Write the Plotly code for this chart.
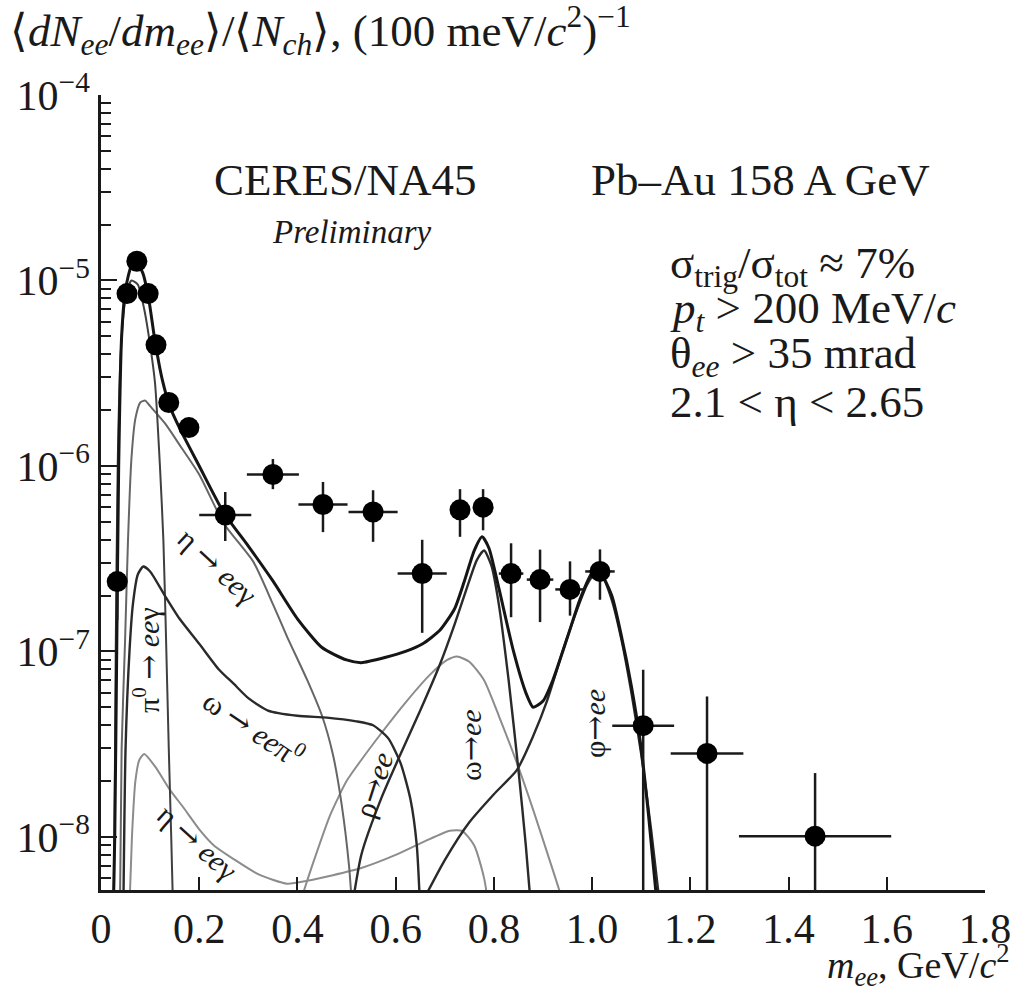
import plotly.graph_objects as go

# ---- measured e+e- pair yield ----
mass = [0.033, 0.053, 0.073, 0.096, 0.112, 0.138, 0.179, 0.253, 0.350, 0.452,
        0.554, 0.654, 0.731, 0.778, 0.835, 0.894, 0.955, 1.016, 1.104, 1.234, 1.454]
pair_yield = [2.38e-7, 8.5e-6, 1.27e-5, 8.5e-6, 4.5e-6, 2.2e-6, 1.61e-6, 5.44e-7, 9.0e-7, 6.2e-7,
              5.65e-7, 2.63e-7, 5.8e-7, 6.0e-7, 2.63e-7, 2.44e-7, 2.16e-7, 2.7e-7, 3.98e-8, 2.82e-8, 1.01e-8]
err_up = [1.0e-7, 0, 0, 0, 0, 0, 0, 1.8e-7, 1.9e-7, 2.0e-7,
          1.75e-7, 1.37e-7, 1.7e-7, 1.5e-7, 1.2e-7, 1.1e-7, 0.9e-7, 0.85e-7, 4.0e-8, 2.9e-8, 1.2e-8]
err_down = [0.9e-7, 0, 0, 0, 0, 0, 0, 1.5e-7, 1.5e-7, 1.8e-7,
            1.75e-7, 1.37e-7, 1.65e-7, 1.5e-7, 1.1e-7, 1.0e-7, 0.6e-7, 0.8e-7, 3.7e-8, 2.55e-8, 0.75e-8]
mass_halfbin = [0, 0, 0, 0, 0, 0, 0, 0.053, 0.053, 0.05,
                0.05, 0.05, 0.02, 0.02, 0.025, 0.027, 0.03, 0.03, 0.063, 0.074, 0.155]

# ---- hadronic decay cocktail ----
total_m = [0.024, 0.028, 0.032, 0.036, 0.042, 0.05, 0.062, 0.072, 0.085, 0.097, 0.11, 0.125, 0.14,
           0.16, 0.2, 0.25, 0.3, 0.35, 0.4, 0.45, 0.5, 0.53, 0.58, 0.62, 0.655, 0.69, 0.72, 0.74,
           0.76, 0.776, 0.79, 0.81, 0.84, 0.865, 0.88, 0.9, 0.92, 0.95, 0.975, 1.0, 1.015, 1.04,
           1.06, 1.08, 1.1, 1.115, 1.13, 1.14]
total_y = [3e-9, 1e-8, 1e-7, 1e-6, 5e-6, 9e-6, 1.2e-5, 1.25e-5, 1.1e-5, 8e-6, 4.7e-6, 2.9e-6, 2.1e-6,
           1.6e-6, 1.0e-6, 5.6e-7, 3.7e-7, 2.4e-7, 1.5e-7, 1.05e-7, 9.0e-8, 8.7e-8, 9.3e-8, 1.0e-7,
           1.1e-7, 1.3e-7, 1.7e-7, 2.4e-7, 3.5e-7, 4.15e-7, 3.6e-7, 2.2e-7, 1.0e-7, 6.0e-8, 5.0e-8,
           5.4e-8, 7.0e-8, 1.2e-7, 1.9e-7, 2.65e-7, 2.7e-7, 2.0e-7, 1.2e-7, 6.5e-8, 3.0e-8, 1.3e-8,
           5e-9, 3e-9]

pi0_m = [0.026, 0.03, 0.034, 0.04, 0.05, 0.062, 0.075, 0.088, 0.1, 0.11, 0.12, 0.127, 0.132,
         0.138, 0.143, 0.148]
pi0_y = [3e-9, 1e-7, 1e-6, 4e-6, 8e-6, 1.0e-5, 9.5e-6, 7e-6, 4.5e-6, 2.8e-6, 1.0e-6, 4e-7, 1.3e-7,
         3e-8, 1e-8, 3e-9]

eta_m = [0.038, 0.042, 0.049, 0.055, 0.062, 0.07, 0.08, 0.09, 0.1, 0.13, 0.16, 0.2, 0.25, 0.31,
         0.35, 0.379, 0.42, 0.45, 0.472, 0.49, 0.505, 0.515]
eta_y = [3e-9, 3e-8, 1.14e-7, 4e-7, 1.1e-6, 1.8e-6, 2.2e-6, 2.25e-6, 2.1e-6, 1.7e-6, 1.3e-6, 9e-7,
         4.9e-7, 3.05e-7, 1.8e-7, 1.2e-7, 7e-8, 4.5e-8, 2.8e-8, 1.5e-8, 7e-9, 3e-9]

omega_dalitz_m = [0.045, 0.05, 0.058, 0.065, 0.075, 0.086, 0.1, 0.13, 0.16, 0.2, 0.24, 0.27, 0.3,
                  0.34, 0.4, 0.46, 0.52, 0.554, 0.585, 0.61, 0.63, 0.643, 0.652]
omega_dalitz_y = [3e-9, 3e-8, 1e-7, 1.8e-7, 2.6e-7, 2.87e-7, 2.7e-7, 2.0e-7, 1.5e-7, 1.1e-7, 8e-8,
                  6.7e-8, 5.6e-8, 4.8e-8, 4.5e-8, 4.4e-8, 4.2e-8, 4.0e-8, 3.4e-8, 2.5e-8, 1.6e-8,
                  9e-9, 3e-9]

etap_m = [0.056, 0.063, 0.07, 0.078, 0.088, 0.11, 0.14, 0.167, 0.2, 0.23, 0.27, 0.32, 0.379,
          0.42, 0.47, 0.53, 0.6, 0.66, 0.71, 0.735, 0.76, 0.78, 0.797]
etap_y = [3e-9, 1e-8, 2e-8, 2.6e-8, 2.8e-8, 2.4e-8, 1.8e-8, 1.45e-8, 1.1e-8, 9e-9, 7.6e-9, 6.3e-9,
          5.6e-9, 5.8e-9, 6.2e-9, 6.8e-9, 8e-9, 9.5e-9, 1.08e-8, 1.08e-8, 9e-9, 6e-9, 3e-9]

rho_m = [0.40, 0.43, 0.466, 0.5, 0.53, 0.57, 0.62, 0.67, 0.705, 0.725, 0.75, 0.78, 0.81, 0.847,
         0.88, 0.91, 0.94, 0.955]
rho_y = [4e-9, 7e-9, 1.3e-8, 2e-8, 2.6e-8, 3.6e-8, 5.3e-8, 7.5e-8, 9e-8, 9.4e-8, 8.8e-8, 7e-8,
         4.5e-8, 2.5e-8, 1.4e-8, 8e-9, 4.5e-9, 3e-9]

omega_m = [0.503, 0.53, 0.57, 0.61, 0.65, 0.69, 0.72, 0.745, 0.765, 0.78, 0.795, 0.81, 0.83,
           0.85, 0.865, 0.88]
omega_y = [3e-9, 8e-9, 1.6e-8, 2.8e-8, 4.8e-8, 8.5e-8, 1.4e-7, 2.2e-7, 3.1e-7, 3.5e-7, 2.9e-7,
           1.8e-7, 7e-8, 2.3e-8, 9e-9, 3e-9]

phi_m = [0.645, 0.7, 0.75, 0.8, 0.847, 0.88, 0.908, 0.94, 0.97, 0.99, 1.005, 1.02, 1.04, 1.06,
         1.08, 1.1, 1.12, 1.135, 1.145]
phi_y = [4e-9, 7.5e-9, 1.2e-8, 1.7e-8, 2.3e-8, 3.5e-8, 5.4e-8, 1.0e-7, 1.7e-7, 2.3e-7, 2.6e-7,
         2.55e-7, 1.9e-7, 1.15e-7, 6e-8, 2.8e-8, 1.1e-8, 5e-9, 3e-9]

x_ticks = [0, 0.2, 0.4, 0.6, 0.8, 1.0, 1.2, 1.4, 1.6, 1.8]
x_tick_text = ["0", "0.2", "0.4", "0.6", "0.8", "1.0", "1.2", "1.4", "1.6", "1.8"]
y_ticks = [1e-8, 1e-7, 1e-6, 1e-5, 1e-4]
y_tick_text = ["10<sup>−8</sup>", "10<sup>−7</sup>", "10<sup>−6</sup>",
               "10<sup>−5</sup>", "10<sup>−4</sup>"]

SERIF = "Liberation Serif"
INK = "#1a1a1a"
ARROW = '<span style="font-family:DejaVu Serif">→</span>'
W, H = 1014, 995
L, R, T, B = 101, 29, 95, 105


def px(xp):
    return (xp - L) / (W - L - R)


def py(yp):
    return (H - B - yp) / (H - T - B)


fig = go.Figure()

curves = [
    (rho_m, rho_y, "#8c8c8c", 2.0),
    (etap_m, etap_y, "#8c8c8c", 2.0),
    (eta_m, eta_y, "#666666", 2.0),
    (pi0_m, pi0_y, "#404040", 2.0),
    (omega_dalitz_m, omega_dalitz_y, "#2a2a2a", 2.4),
    (omega_m, omega_y, "#2a2a2a", 2.4),
    (phi_m, phi_y, "#2a2a2a", 2.4),
    (total_m, total_y, "#151515", 3.0),
]
for xm, ym, col, w in curves:
    fig.add_trace(go.Scatter(x=xm, y=ym, mode="lines",
                             line=dict(color=col, width=w, shape="spline", smoothing=0.6),
                             hoverinfo="skip"))

fig.add_trace(go.Scatter(
    x=mass, y=pair_yield, mode="markers",
    marker=dict(color="black", size=21),
    error_y=dict(type="data", symmetric=False, array=err_up, arrayminus=err_down,
                 color=INK, thickness=2.5, width=0),
    error_x=dict(type="data", array=mass_halfbin, color=INK, thickness=2.5, width=0),
))

minor_vals = [m * 10 ** e for e in range(-9, -4) for m in range(2, 10)]

fig.update_layout(
    width=W, height=H,
    margin=dict(l=L, r=R, t=T, b=B, autoexpand=False),
    paper_bgcolor="white", plot_bgcolor="white",
    showlegend=False,
    font=dict(family=SERIF, color=INK),
    xaxis=dict(range=[0, 1.8], tickvals=x_ticks, ticktext=x_tick_text, automargin=False,
               ticks="inside", ticklen=13, tickwidth=2, tickcolor=INK,
               showline=True, linecolor=INK, linewidth=2.5,
               showgrid=False, zeroline=False,
               tickfont=dict(family=SERIF, size=42, color=INK)),
    yaxis=dict(type="log", range=[-8.286, -4.0], tickvals=y_ticks, ticktext=y_tick_text,
               automargin=False,
               ticks="inside", ticklen=16, tickwidth=2, tickcolor=INK,
               minor=dict(tickvals=minor_vals, ticks="inside", ticklen=10, tickwidth=2,
                          tickcolor=INK),
               showline=True, linecolor=INK, linewidth=2.5,
               showgrid=False, zeroline=False,
               tickfont=dict(family=SERIF, size=42, color=INK)),
)


def note(text, xp, yp, size, angle=0, anchor="center"):
    fig.add_annotation(text=text, x=px(xp), y=py(yp), xref="paper", yref="paper",
                       showarrow=False, textangle=angle, xanchor=anchor, yanchor="middle",
                       font=dict(family=SERIF, size=size, color=INK))


# axis titles
note("⟨<i>dN</i><sub><i>ee</i></sub>/<i>dm</i><sub><i>ee</i></sub>⟩/⟨<i>N</i><sub><i>ch</i></sub>⟩, "
     "(100 meV/<i>c</i><sup>2</sup>)<sup>−1</sup>", 8, 30, 45, anchor="left")
note("<i>m</i><sub><i>ee</i></sub>, GeV/<i>c</i><sup>2</sup>", 1012, 965, 38, anchor="right")

# headers
note("CERES/NA45", 345, 180, 45)
note("<i>Preliminary</i>", 352, 232, 33)
note("Pb–Au 158 A GeV", 760, 180, 45)

# cuts
note("σ<sub>trig</sub>/σ<sub>tot</sub> ≈ 7%", 668, 266, 45, anchor="left")
note("<i>p</i><sub><i>t</i></sub> > 200 MeV/<i>c</i>", 668, 311, 45, anchor="left")
note("θ<sub><i>ee</i></sub> > 35 mrad", 668, 356, 45, anchor="left")
note("2.1 < η < 2.65", 668, 402, 45, anchor="left")

# curve labels
note(f"η {ARROW} <i>ee</i>γ", 218, 566, 30, angle=43)
note(f"π<sup>0</sup> {ARROW} <i>ee</i>γ", 146, 660, 30, angle=-90)
note(f"ω {ARROW} <i>ee</i>π<sup>0</sup>", 254, 727, 30, angle=34)
note(f"η {ARROW} <i>ee</i>γ", 198, 842, 30, angle=42)
note(f"ρ{ARROW}<i>ee</i>", 373, 785, 30, angle=-72)
note(f"ω{ARROW}<i>ee</i>", 470, 745, 30, angle=-90)
note(f"φ{ARROW}<i>ee</i>", 594, 724, 30, angle=-90)

fig.write_html("out.html")
